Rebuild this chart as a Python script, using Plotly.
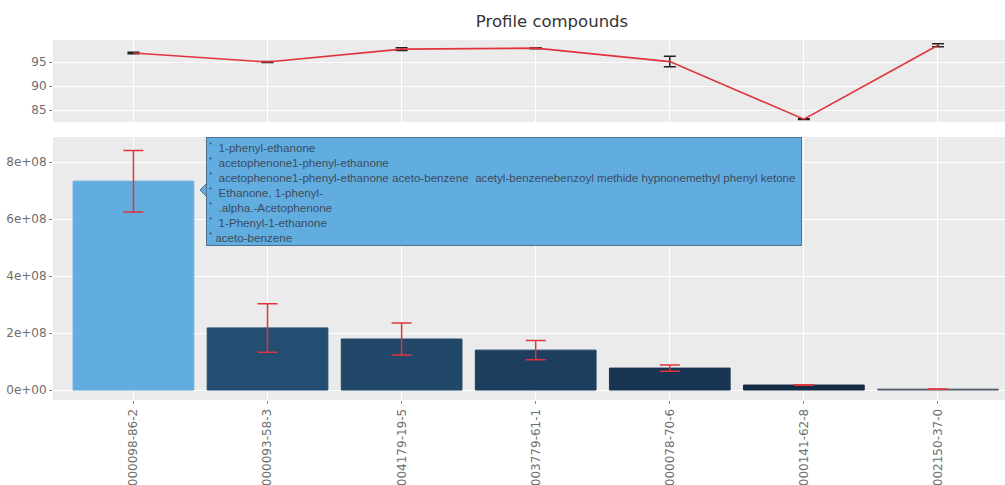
import plotly.graph_objects as go

# ---- data ----
cas = ["000098-86-2", "000093-58-3", "004179-19-5", "003779-61-1",
       "000078-70-6", "000141-62-8", "002150-37-0"]
match_score = [96.9, 95.0, 97.7, 97.9, 95.1, 83.1, 98.5]
match_err = [0.15, 0.1, 0.3, 0.1, 1.1, 0.1, 0.3]
abundance = [7.33e8, 2.18e8, 1.79e8, 1.40e8, 0.77e8, 0.175e8, 0.03e8]
abund_err = [1.08e8, 0.85e8, 0.56e8, 0.34e8, 0.11e8, 0.01e8, 0.005e8]
bar_colors = ["#62ADE0", "#234E72", "#214769", "#1D3E5F", "#183653", "#142C45", "#4E5A66"]
top_ticks = [85, 90, 95]
bottom_ticks = [0, 2e8, 4e8, 6e8, 8e8]
bottom_ticklabels = ["0e+00", "2e+08", "4e+08", "6e+08", "8e+08"]
tooltip_lines = [
    "1-phenyl-ethanone",
    "acetophenone1-phenyl-ethanone",
    "acetophenone1-phenyl-ethanone aceto-benzene  acetyl-benzenebenzoyl methide hypnonemethyl phenyl ketone",
    "Ethanone, 1-phenyl-",
    ".alpha.-Acetophenone",
    "1-Phenyl-1-ethanone",
    "aceto-benzene",
]

W, H = 1005, 485
def px(x): return x / W
def py(y): return 1 - y / H

FONT = "Liberation Sans, Arial, sans-serif"
TFONT = "DejaVu Sans, Verdana, sans-serif"
GRID = "#FFFFFF"
BG = "#EBEBEB"
TICKC = "#6E6E6E"

fig = go.Figure()

fig.add_trace(go.Scatter(
    x=cas, y=match_score, mode="lines", xaxis="x", yaxis="y",
    line=dict(color="#E0343C", width=1.6),
    error_y=dict(type="data", array=match_err, color="#222222", thickness=1.5, width=6),
    hoverinfo="skip", showlegend=False))

fig.add_trace(go.Bar(
    x=cas, y=abundance, xaxis="x2", yaxis="y2", width=0.9,
    marker=dict(color=bar_colors, line=dict(color=bar_colors, width=1)),
    error_y=dict(type="data", array=abund_err, color="#E0343C", thickness=1.5, width=10),
    hoverinfo="skip", showlegend=False))

common_x = dict(type="category", range=[-0.6, 6.5], showgrid=True, gridcolor=GRID,
                gridwidth=1.2, zeroline=False, showline=False,
                domain=[px(53), 1.0])
fig.update_layout(
    width=W, height=H, margin=dict(l=0, r=0, t=0, b=0),
    paper_bgcolor="white", plot_bgcolor=BG,
    font=dict(family=TFONT, color=TICKC),
    title=dict(text="Profile compounds", x=px(552), y=py(21), xanchor="center",
               yanchor="middle", font=dict(size=16.5, color="#333333", family=TFONT)),
    xaxis=dict(**common_x, anchor="y", showticklabels=False, ticks=""),
    yaxis=dict(domain=[py(122), py(40)], range=[82.5, 99.6], tickvals=top_ticks,
               ticks="outside", ticklen=3, tickcolor="#888888", showgrid=True,
               gridcolor=GRID, gridwidth=1.2, zeroline=False,
               tickfont=dict(size=12, color=TICKC, family=TFONT), anchor="x",
               automargin=False),
    xaxis2=dict(**common_x, anchor="y2", matches="x", ticks="outside", ticklen=3,
                tickcolor="#888888", tickangle=-90,
                tickfont=dict(size=12, color=TICKC, family=TFONT), automargin=False),
    yaxis2=dict(domain=[py(400), py(137)], range=[-0.35e8, 8.88e8],
                tickvals=bottom_ticks, ticktext=bottom_ticklabels,
                ticks="outside", ticklen=3, tickcolor="#888888", showgrid=True,
                gridcolor=GRID, gridwidth=1.2, zeroline=False,
                tickfont=dict(size=12, color=TICKC, family=TFONT), anchor="x2",
                automargin=False),
)

# tooltip box
tip_text = "<br>".join(("<sup>*</sup> " if i == len(tooltip_lines) - 1 else "<sup>*</sup>  ") + t
                       for i, t in enumerate(tooltip_lines))
fig.add_annotation(
    xref="paper", yref="paper", x=px(206), y=py(137), xanchor="left", yanchor="top",
    text=tip_text, showarrow=False, align="left", valign="top",
    width=590, height=103, bgcolor="#62ADE0", bordercolor="#4F7291", borderwidth=1,
    borderpad=2, font=dict(size=11.6, color="#3D4C5C", family=FONT))
fig.add_shape(
    type="path", xref="paper", yref="paper",
    path=f"M {px(207)} {py(183)} L {px(200)} {py(190)} L {px(207)} {py(197)} Z",
    fillcolor="#62ADE0", line=dict(color="#4F7291", width=1), layer="above")

fig.write_html("out.html")
